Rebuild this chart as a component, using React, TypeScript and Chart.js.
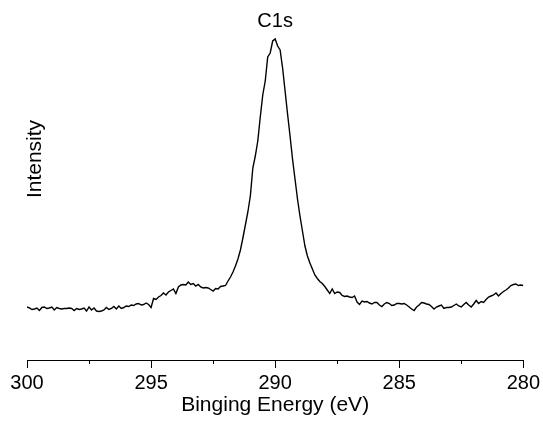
import React, { useEffect, useRef } from 'react';
import { Chart, registerables } from 'chart.js';

Chart.register(...registerables);

// Binding energy sampling (eV): 300.0 down to 280.0 in 0.1 eV steps
const ENERGY_START = 300;
const ENERGY_STEP = 0.1;

// Intensity (a.u.), one value per 0.1 eV from 300.0 eV to 280.0 eV
const intensity: number[] = [
  53, 52, 50.5, 51, 52, 49.5, 52.5, 53, 51.5, 52,
  53, 50, 52.5, 51.5, 51, 51.5, 51.5, 52, 51.5, 49.5,
  51.5, 50.5, 51, 52, 49, 53, 50, 52, 49, 48.5,
  49, 50, 52.5, 50.5, 51.5, 53.5, 51, 54, 51.5, 52.5,
  54, 53.5, 55, 54.5, 56, 56.5, 55, 55.5, 57, 55.5,
  52.5, 61.5, 60.5, 63, 64.5, 67, 65, 68, 69.5, 71,
  66.5, 73, 75, 75.5, 75, 78, 75.5, 76.5, 74, 75.5,
  73, 72, 72.5, 72, 70.5, 69, 71.5, 71, 73.5, 74,
  74.5, 79, 83, 88, 94, 101, 110, 122, 135, 148,
  164, 192, 204, 219, 243, 265, 279, 303, 307, 319,
  321, 314, 310, 292, 269, 246, 224, 201, 181, 161,
  144, 129, 114, 104, 97, 91, 85, 81.5, 78.5, 76.5,
  73.5, 70, 66.5, 71, 66.5, 68, 67.5, 64.5, 63.5, 64,
  63, 62.5, 64, 58, 55.5, 59, 58, 58.5, 57, 56,
  57.5, 57.5, 55, 53.5, 56, 57.5, 56.5, 54.5, 55, 56.5,
  56.5, 56, 56.5, 55, 53, 51, 49.5, 53, 55, 57.5,
  57, 56, 55.5, 53.5, 51, 53, 54, 55, 51.5, 52.5,
  52.5, 53, 54.5, 56, 54, 53, 55.5, 57.5, 55, 53,
  56, 59.5, 56.5, 58.5, 57.5, 60.5, 63, 64, 65, 67,
  64, 66.5, 68.5, 70, 72, 74.5, 75.5, 76, 74.5, 75, 74.5,
];

const X_MIN = 280;
const X_MAX = 300;
const MAJOR_STEP = 5;
const minorTicks: number[] = [297.5, 292.5, 287.5, 282.5];

const chartTitle = 'C1s';
const xTitle = 'Binging Energy (eV)';
const yTitle = 'Intensity';

const FONT_FAMILY = '"Liberation Sans", Arial, Helvetica, sans-serif';

export default function App() {
  const canvasRef = useRef<HTMLCanvasElement | null>(null);

  useEffect(() => {
    const canvas = canvasRef.current;
    if (!canvas) return;

    const points = intensity.map((v, i) => ({
      x: Math.round((ENERGY_START - i * ENERGY_STEP) * 10) / 10,
      y: v,
    }));

    const textPlugin = {
      id: 'xpsText',
      afterDraw(chart: any) {
        const { ctx, chartArea, scales } = chart;
        const xs = scales.x;
        ctx.save();
        // minor ticks
        ctx.strokeStyle = '#000';
        ctx.lineWidth = 1;
        ctx.beginPath();
        for (const t of minorTicks) {
          const px = Math.round(xs.getPixelForValue(t)) + 0.5;
          ctx.moveTo(px, chartArea.bottom);
          ctx.lineTo(px, chartArea.bottom + 4);
        }
        ctx.stroke();
        // title and y label
        ctx.fillStyle = '#000';
        ctx.textAlign = 'center';
        ctx.textBaseline = 'middle';
        ctx.font = `20px ${FONT_FAMILY}`;
        ctx.fillText(chartTitle, (chartArea.left + chartArea.right) / 2, 21);
        ctx.font = `21px ${FONT_FAMILY}`;
        ctx.translate(35.5, 159);
        ctx.rotate(-Math.PI / 2);
        ctx.fillText(yTitle, 0, 0);
        ctx.restore();
      },
    };

    const chart = new Chart(canvas, {
      type: 'line',
      data: {
        datasets: [
          {
            data: points,
            borderColor: '#000',
            borderWidth: 1.4,
            pointRadius: 0,
            tension: 0,
            fill: false,
          },
        ],
      },
      options: {
        animation: false,
        responsive: true,
        maintainAspectRatio: false,
        layout: { padding: { top: 30, left: 27, right: 18, bottom: 0 } },
        plugins: {
          legend: { display: false },
          tooltip: { enabled: false },
          title: { display: false },
        },
        scales: {
          x: {
            type: 'linear',
            reverse: true,
            min: X_MIN,
            max: X_MAX,
            afterFit: (scale: any) => {
              scale.height = 64;
            },
            border: { display: true, color: '#000', width: 1 },
            grid: {
              drawOnChartArea: false,
              drawTicks: true,
              tickLength: 8,
              color: '#000',
              tickColor: '#000',
            },
            ticks: {
              stepSize: MAJOR_STEP,
              autoSkip: false,
              maxRotation: 0,
              padding: 3,
              color: '#000',
              font: { family: FONT_FAMILY, size: 20 },
            },
            title: {
              display: true,
              text: xTitle,
              color: '#000',
              font: { family: FONT_FAMILY, size: 21 },
              padding: { top: 0, bottom: 6 },
            },
          },
          y: {
            display: false,
            min: 0,
            max: 330,
          },
        },
      },
      plugins: [textPlugin],
    });

    return () => {
      chart.destroy();
    };
  }, []);

  return (
    <div style={{ position: 'absolute', left: 0, top: 0, width: '543px', height: '424px' }}>
      <canvas ref={canvasRef} />
    </div>
  );
}
